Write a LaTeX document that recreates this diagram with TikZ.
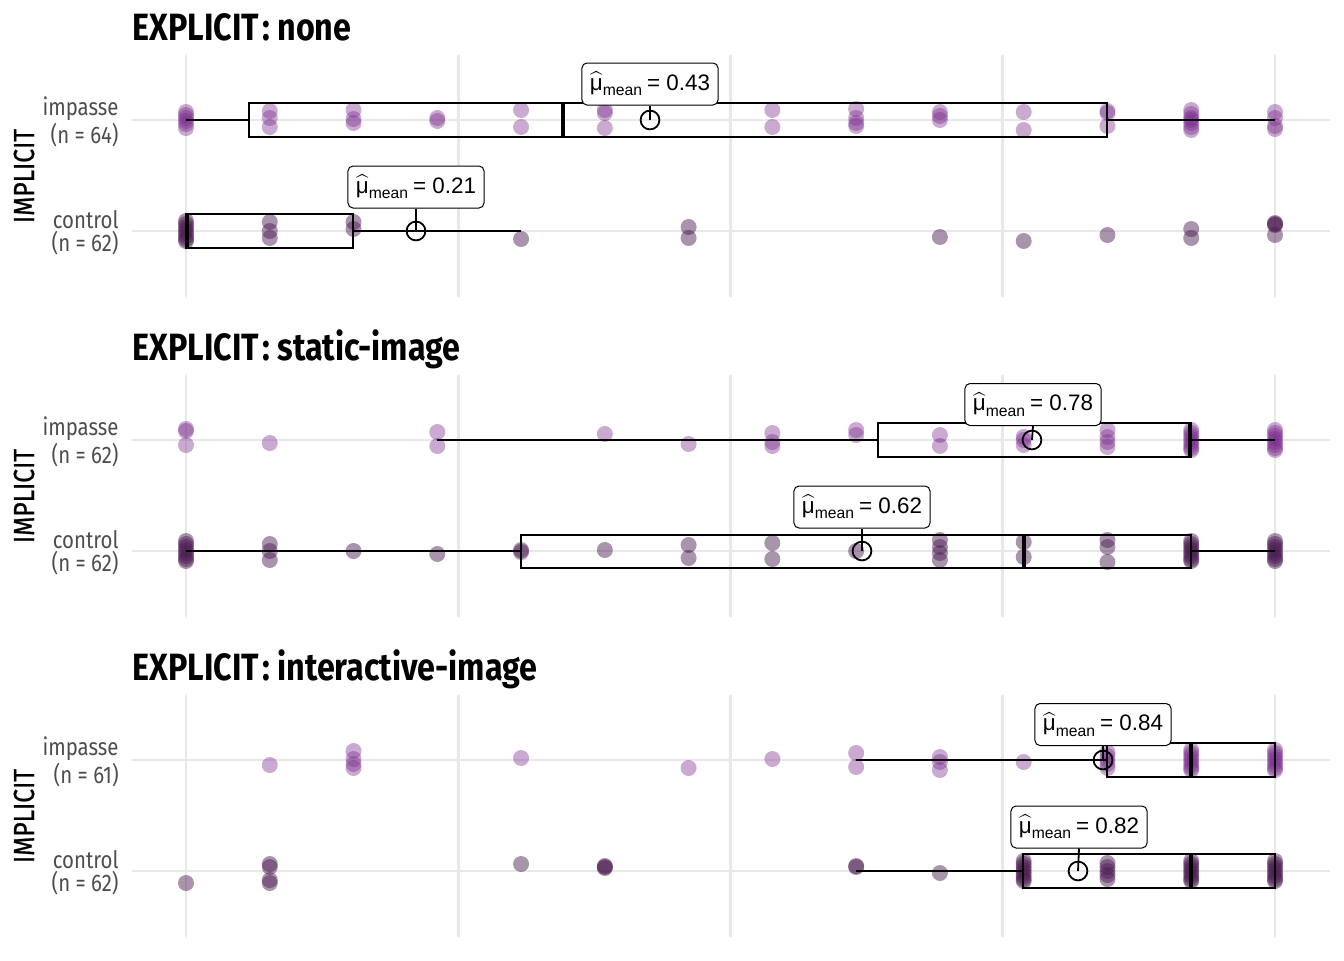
\documentclass[tikz,border=0pt]{standalone}
\usepackage{amsmath}
\usepackage{fontspec}
\setmainfont{Fira Sans}[FakeStretch=0.85]
\newfontfamily\statfont{Liberation Sans}
\newfontfamily\axfont{Fira Sans}[FakeStretch=0.85,FakeBold=0.8]
\usetikzlibrary{positioning}
\definecolor{impcol}{RGB}{122,42,140}
\definecolor{concol}{RGB}{74,26,80}
\definecolor{gridcol}{RGB}{232,232,232}
\definecolor{labcol}{RGB}{77,77,77}
\def\xk#1{(186+83.769*(#1))}
\tikzset{
  impdot/.style={fill=impcol,fill opacity=0.4},
  condot/.style={fill=concol,fill opacity=0.47},
  gridline/.style={draw=gridcol,line width=1.4pt},
  boxline/.style={draw=black,line width=1.2pt},
  medline/.style={draw=black,line width=2.4pt},
  whisk/.style={draw=black,line width=1.4pt},
  meanpt/.style={circle,draw=black,line width=0.9pt,minimum size=9.4pt,inner sep=0pt},
  meanlab/.style={draw=black,fill=white,rounded corners=2.5pt,line width=0.5pt,
    font=\statfont\fontsize{11.2}{13}\selectfont,inner xsep=4pt,minimum height=21pt},
  rowlab/.style={align=right,anchor=east,inner sep=0pt,text=labcol,
    font=\fontsize{12}{9.8}\selectfont},
  paneltitle/.style={anchor=base west,inner sep=0pt,font=\bfseries\fontsize{19}{22}\selectfont},
  axlab/.style={rotate=90,anchor=base,inner sep=0pt,font=\axfont\fontsize{14.5}{15}\selectfont}
}
\newcommand{\mulab}[1]{$\widehat{\text{μ}}_{\text{mean}}$\kern2pt= #1}
\begin{document}
\begin{tikzpicture}[x=0.5pt,y=-0.5pt]
\useasboundingbox (0,0) rectangle (1344,960);

% panel 1: none
\begin{scope}
\foreach \k in {0,...,4} \draw[gridline] ({\xk{\k*3.25}},55) -- ({\xk{\k*3.25}},297);
\draw[gridline] (132,120) -- (1330,120);
\draw[gridline] (132,231) -- (1330,231);
\node[paneltitle] (t1) at (132,40) {EXPLICIT\kern1.5pt: none};
\node[axlab] (y1) at (34,176) {IMPLICIT};
\node[rowlab] (r1) at (119,122) {impasse\\(n = 64)};
\node[rowlab] (r2) at (119,233) {control\\(n = 62)};
\foreach \k/\d in {0/-8,0/-5,0/-2,0/1,0/4,0/8, 1/-9,1/-2,1/7, 2/-10,2/-1,2/3, 3/-2,3/1,
  4/-10,4/7, 5/-10,5/-7,5/8, 7/-10,7/7, 8/-11,8/-2,8/3,8/6, 9/-8,9/-4,9/0, 10/-8,10/10,
  11/-9,11/-7,11/6, 12/-10,12/-6,12/-2,12/0,12/3,12/7,12/10, 13/-8,13/-2,13/6,13/9}
  \fill[impdot] ({\xk{\k}},{120+\d}) circle[radius=4pt];
\foreach \k/\d in {0/-10,0/-7,0/-4,0/-1,0/2,0/5,0/8,0/10, 1/-9,1/0,1/7, 2/-9,2/-2, 4/8,
  6/-4,6/7, 9/6, 10/10, 11/4, 12/-2,12/7, 13/-8,13/-7,13/-6,13/4}
  \fill[condot] ({\xk{\k}},{231+\d}) circle[radius=4pt];
% impasse
\draw[whisk] (186,120) -- (249,120) (1107,120) -- (1275,120);
\draw[boxline] (249,103) rectangle (1107,137);
\draw[medline] (563,103) -- (563,137);
\node[meanpt] (m1) at (650,120) {};
\node[meanlab] (l1) at (650,84) {\mulab{0.43}};
\draw[line width=0.9pt] (l1.south) -- (m1.center);
% control
\draw[whisk] (353,231) -- (521,231);
\draw[boxline] (186,214) rectangle (353,248);
\draw[medline] (187,214) -- (187,248);
\node[meanpt] (m2) at (416,231) {};
\node[meanlab] (l2) at (416,187) {\mulab{0.21}};
\draw[line width=0.9pt] (l2.south) -- (m2.center);
\end{scope}

% panel 2: static-image
\begin{scope}[yshift=-160pt]
\foreach \k in {0,...,4} \draw[gridline] ({\xk{\k*3.25}},55) -- ({\xk{\k*3.25}},297);
\draw[gridline] (132,120) -- (1330,120);
\draw[gridline] (132,231) -- (1330,231);
\node[paneltitle] (t2) at (132,40) {EXPLICIT\kern1.5pt: static-image};
\node[axlab] (y2) at (34,176) {IMPLICIT};
\node[rowlab] (r3) at (119,122) {impasse\\(n = 62)};
\node[rowlab] (r4) at (119,233) {control\\(n = 62)};
\foreach \k/\d in {0/-11,0/-9,0/5, 1/3, 3/-8,3/6, 5/-6, 6/4, 7/-7,7/2,7/6, 8/-10,8/-5,
  9/-5,9/6, 10/-3,10/0,10/5, 11/-10,11/-3,11/2,11/7,
  12/-10,12/-7,12/-4,12/-1,12/2,12/5,12/8,12/10, 13/-10,13/-7,13/-4,13/-1,13/2,13/5,13/8,13/10}
  \fill[impdot] ({\xk{\k}},{120+\d}) circle[radius=4pt];
\foreach \k/\d in {0/-10,0/-7,0/-4,0/-1,0/2,0/5,0/8,0/10, 1/-7,1/0,1/9, 2/0, 3/3, 4/-1,4/1,
  5/-1, 6/-6,6/7, 7/-8,7/8, 8/0, 9/-11,9/-4,9/2,9/9, 10/-9,10/6, 11/-11,11/-4,11/11,
  12/-10,12/-7,12/-4,12/-1,12/2,12/5,12/8,12/10, 13/-10,13/-7,13/-4,13/-1,13/2,13/5,13/8,13/10}
  \fill[condot] ({\xk{\k}},{231+\d}) circle[radius=4pt];
% impasse
\draw[whisk] (437,120) -- (878,120) (1191,120) -- (1275,120);
\draw[boxline] (878,103) rectangle (1191,137);
\draw[medline] (1190,103) -- (1190,137);
\node[meanpt] (m3) at (1032,120) {};
\node[meanlab] (l3) at (1033,84.5) {\mulab{0.78}};
\draw[line width=0.9pt] (l3.south) -- (m3.center);
% control
\draw[whisk] (186,231) -- (521,231) (1191,231) -- (1275,231);
\draw[boxline] (521,215) rectangle (1191,248);
\draw[medline] (1024,215) -- (1024,248);
\node[meanpt] (m4) at (862,231) {};
\node[meanlab] (l4) at (862,187) {\mulab{0.62}};
\draw[line width=0.9pt] (l4.south) -- (m4.center);
\end{scope}

% panel 3: interactive-image
\begin{scope}[yshift=-320pt]
\foreach \k in {0,...,4} \draw[gridline] ({\xk{\k*3.25}},55) -- ({\xk{\k*3.25}},297);
\draw[gridline] (132,120) -- (1330,120);
\draw[gridline] (132,231) -- (1330,231);
\node[paneltitle] (t3) at (132,40) {EXPLICIT\kern1.5pt: interactive-image};
\node[axlab] (y3) at (34,176) {IMPLICIT};
\node[rowlab] (r5) at (119,122) {impasse\\(n = 61)};
\node[rowlab] (r6) at (119,233) {control\\(n = 62)};
\foreach \k/\d in {1/5, 2/-9,2/-1,2/4,2/8, 4/-2, 6/8, 7/-1, 8/-7,8/7, 9/-3,9/2,9/10, 10/2,
  11/-8,11/-4,11/0,11/4,11/8, 12/-10,12/-7,12/-4,12/-1,12/2,12/5,12/8,12/10,
  13/-10,13/-7,13/-4,13/-1,13/2,13/5,13/8,13/10}
  \fill[impdot] ({\xk{\k}},{120+\d}) circle[radius=4pt];
\foreach \k/\d in {0/12, 1/-7,1/-4,1/9,1/12, 4/-7, 5/-5,5/-4,5/-3, 8/-5,8/-4, 9/2,
  10/-10,10/-7,10/-4,10/-1,10/2,10/5,10/8,10/10, 11/-8,11/-4,11/0,11/4,11/8,
  12/-10,12/-7,12/-4,12/-1,12/2,12/5,12/8,12/10, 13/-10,13/-7,13/-4,13/-1,13/2,13/5,13/8,13/10}
  \fill[condot] ({\xk{\k}},{231+\d}) circle[radius=4pt];
% impasse
\draw[whisk] (856,120) -- (1107,120);
\draw[boxline] (1107,103) rectangle (1275,137);
\draw[medline] (1191,103) -- (1191,137);
\node[meanpt] (m5) at (1103,120) {};
\node[meanlab] (l5) at (1103,84.5) {\mulab{0.84}};
\draw[line width=0.9pt] (l5.south) -- (m5.center);
% control
\draw[whisk] (856,231) -- (1023,231);
\draw[boxline] (1023,214) rectangle (1275,248);
\draw[medline] (1191,214) -- (1191,248);
\node[meanpt] (m6) at (1078,231) {};
\node[meanlab] (l6) at (1079,187) {\mulab{0.82}};
\draw[line width=0.9pt] (l6.south) -- (m6.center);
\end{scope}
\end{tikzpicture}
\end{document}
